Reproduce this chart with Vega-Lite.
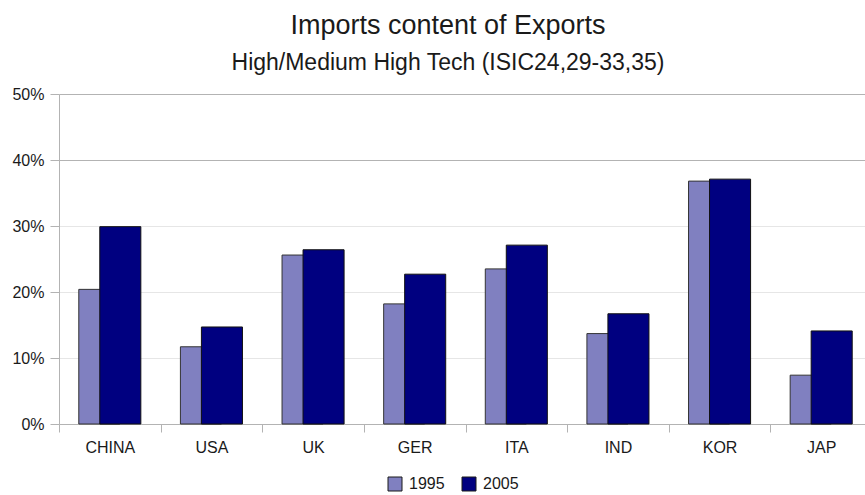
{
  "$schema": "https://vega.github.io/schema/vega-lite/v6.json",
  "autosize": "none",
  "width": 806,
  "height": 330,
  "padding": {"left": 59, "top": 94, "right": 0, "bottom": 71},
  "background": "white",
  "title": {
    "text": "Imports content of Exports",
    "subtitle": "High/Medium High Tech (ISIC24,29-33,35)",
    "anchor": "middle",
    "dx": -14,
    "offset": 10,
    "font": "Liberation Sans",
    "fontSize": 27,
    "fontWeight": "normal",
    "color": "#1a1a1a",
    "subtitleFont": "Liberation Sans",
    "subtitleFontSize": 23,
    "subtitleColor": "#1a1a1a",
    "subtitlePadding": 12
  },
  "data": {
    "values": [
      {"country": "CHINA", "year": "1995", "share": 0.204},
      {"country": "CHINA", "year": "2005", "share": 0.299},
      {"country": "USA", "year": "1995", "share": 0.117},
      {"country": "USA", "year": "2005", "share": 0.147},
      {"country": "UK", "year": "1995", "share": 0.256},
      {"country": "UK", "year": "2005", "share": 0.264},
      {"country": "GER", "year": "1995", "share": 0.182},
      {"country": "GER", "year": "2005", "share": 0.227},
      {"country": "ITA", "year": "1995", "share": 0.235},
      {"country": "ITA", "year": "2005", "share": 0.271},
      {"country": "IND", "year": "1995", "share": 0.137},
      {"country": "IND", "year": "2005", "share": 0.167},
      {"country": "KOR", "year": "1995", "share": 0.368},
      {"country": "KOR", "year": "2005", "share": 0.371},
      {"country": "JAP", "year": "1995", "share": 0.074},
      {"country": "JAP", "year": "2005", "share": 0.141}
    ]
  },
  "encoding": {
    "x": {
      "field": "country",
      "type": "nominal",
      "sort": null,
      "title": null,
      "scale": {"range": [0, 813], "paddingInner": 0, "paddingOuter": 0},
      "axis": {
        "tickBand": "extent",
        "labelAngle": 0,
        "labelFont": "Liberation Sans",
        "labelFontSize": 16,
        "labelColor": "#1a1a1a",
        "tickSize": 8,
        "tickColor": "#b3b3b3",
        "domainColor": "#b3b3b3",
        "labelPadding": 7,
        "grid": false
      }
    },
    "y": {
      "field": "share",
      "type": "quantitative",
      "title": null,
      "scale": {"domain": [0, 0.5], "nice": false},
      "axis": {
        "values": [0, 0.1, 0.2, 0.3, 0.4, 0.5],
        "format": ".0%",
        "labelFont": "Liberation Sans",
        "labelFontSize": 16,
        "labelColor": "#1a1a1a",
        "tickSize": 9,
        "tickColor": "#b3b3b3",
        "domainColor": "#b3b3b3",
        "labelPadding": 6,
        "grid": true,
        "gridColor": {"condition": {"test": "datum.value >= 0.4", "value": "#b3b3b3"}, "value": "#e6e6e6"}
      }
    },
    "color": {
      "field": "year",
      "type": "nominal",
      "title": null,
      "scale": {"domain": ["1995", "2005"], "range": ["#8080c0", "#000080"]},
      "legend": {
        "orient": "none",
        "legendX": 328,
        "legendY": 382,
        "direction": "horizontal",
        "padding": 0,
        "symbolType": "square",
        "symbolSize": 196,
        "symbolStrokeColor": "#1a1a1a",
        "symbolStrokeWidth": 1,
        "symbolOpacity": 1,
        "labelFont": "Liberation Sans",
        "labelFontSize": 16,
        "labelColor": "#1a1a1a",
        "columnPadding": 15,
        "labelOffset": 6
      }
    }
  },
  "layer": [
    {
      "transform": [{"filter": "datum.year == '1995'"}],
      "mark": {"type": "bar", "width": {"band": 0.404}, "xOffset": -10.5, "stroke": "#333333", "strokeWidth": 1},
      "encoding": {}
    },
    {
      "transform": [{"filter": "datum.year == '2005'"}],
      "mark": {"type": "bar", "width": {"band": 0.404}, "xOffset": 10.5, "stroke": "#111111", "strokeWidth": 1},
      "encoding": {}
    }
  ],
  "config": {"view": {"stroke": null}, "axis": {"domainWidth": 1}}
}
